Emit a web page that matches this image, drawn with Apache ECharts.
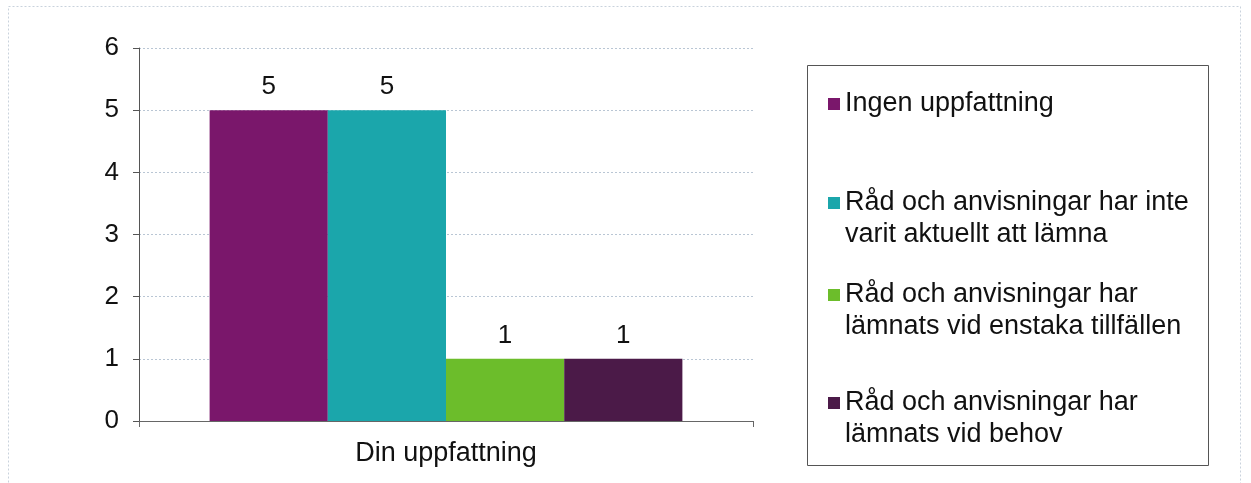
<!DOCTYPE html>
<html><head><meta charset="utf-8">
<script src="https://cdn.jsdelivr.net/npm/echarts@6/dist/echarts.min.js"></script>
<style>html,body{margin:0;padding:0;background:#fff}#c{width:1251px;height:483px}</style>
</head><body><div id="c"></div>
<script>
const categories = ['Din uppfattning'];
const seriesNames = [
  'Ingen uppfattning',
  'Råd och anvisningar har inte varit aktuellt att lämna',
  'Råd och anvisningar har lämnats vid enstaka tillfällen',
  'Råd och anvisningar har lämnats vid behov'
];
const legendLabels = [
  'Ingen uppfattning',
  'Råd och anvisningar har inte\nvarit aktuellt att lämna',
  'Råd och anvisningar har\nlämnats vid enstaka tillfällen',
  'Råd och anvisningar har\nlämnats vid behov'
];
const values = [[5], [5], [1], [1]];
const colors = ['#7a176b', '#1ba6ab', '#6cbd2b', '#4b1a48'];
const yTicks = [0, 1, 2, 3, 4, 5, 6];

const FONT = 'Liberation Sans';
const chart = echarts.init(document.getElementById('c'), null, {renderer: 'canvas'});
const legendTops = [88, 155, 247, 355];
const legends = seriesNames.map((n, i) => ({
  data: [n],
  left: 828, top: legendTops[i], padding: 0,
  orient: 'vertical',
  icon: 'rect', itemWidth: 12, itemHeight: 12, itemGap: 0,
  selectedMode: false,
  // a leading blank line keeps the marker level with the first text line
  formatter: () => (legendLabels[i].includes('\n') ? ' \n' : '') + legendLabels[i],
  textStyle: {fontFamily: FONT, fontSize: 27, color: '#111', lineHeight: 32}
}));
chart.setOption({
  animation: false,
  color: colors,
  grid: {left: 139, right: 498, top: 48, bottom: 62, containLabel: false},
  legend: legends,
  graphic: [
    {type: 'rect', shape: {x: 8.5, y: 6.5, width: 1232, height: 490},
     style: {fill: 'none', stroke: '#c9d2dc', lineWidth: 1, lineDash: [2, 2]}},
    {type: 'rect', shape: {x: 807.5, y: 65.5, width: 401, height: 400},
     style: {fill: 'none', stroke: '#555', lineWidth: 1}}
  ],
  xAxis: {
    type: 'category', data: categories,
    axisLine: {lineStyle: {color: '#666', width: 1}},
    axisTick: {show: true, length: 6, lineStyle: {color: '#666'}},
    axisLabel: {fontFamily: FONT, fontSize: 27, color: '#111', margin: 19}
  },
  yAxis: {
    type: 'value', min: yTicks[0], max: yTicks[yTicks.length - 1], interval: 1,
    axisLine: {show: true, lineStyle: {color: '#555', width: 1}},
    axisTick: {show: true, length: 6, lineStyle: {color: '#555'}},
    axisLabel: {fontFamily: FONT, fontSize: 26, color: '#111', margin: 20},
    splitLine: {lineStyle: {color: '#b9c6d4', type: [2, 2], width: 1}}
  },
  series: seriesNames.map((n, i) => ({
    name: n, type: 'bar', data: values[i],
    barGap: '0%', barCategoryGap: '23%',
    itemStyle: {color: colors[i]},
    label: {show: true, position: 'top', distance: 10, fontFamily: FONT, fontSize: 26, color: '#111'}
  }))
});
</script></body></html>
